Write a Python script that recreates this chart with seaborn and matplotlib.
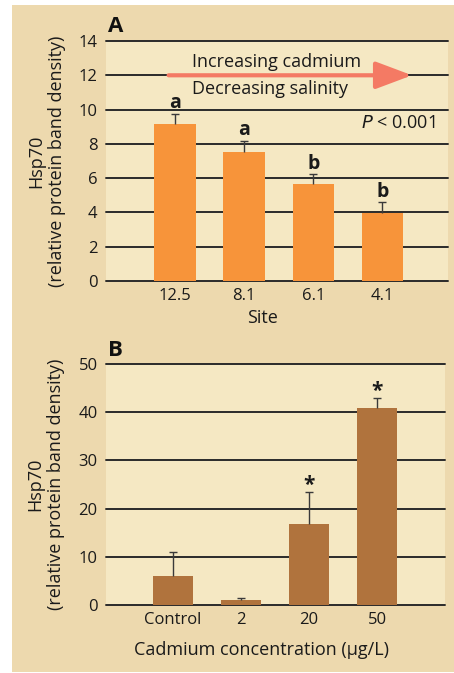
import matplotlib
matplotlib.use("Agg")
import matplotlib.pyplot as plt
import seaborn as sns
import pandas as pd
from matplotlib.patches import Rectangle

# ---- data ----
sites = ["12.5", "8.1", "6.1", "4.1"]
hsp_site = [9.15, 7.52, 5.65, 3.97]
err_site = [0.62, 0.66, 0.59, 0.63]
letters_site = ["a", "a", "b", "b"]

conc = ["Control", "2", "20", "50"]
hsp_conc = [6.0, 1.05, 16.8, 40.8]
err_conc = [5.05, 0.45, 6.7, 2.1]
stars_conc = ["", "", "*", "*"]

ticks_a = [0, 2, 4, 6, 8, 10, 12, 14]
ticks_b = [0, 10, 20, 30, 40, 50]

sns.set_theme(style="white")
plt.rcParams["font.family"] = ["Open Sans", "DejaVu Sans"]

OUTER = "#EDD9AE"
INNER = "#F5E8C3"
ORANGE = "#F7943A"
BROWN = "#B0733D"
GRID = "#2a2a2a"
ERR = "#3a3a3a"
TXT = "#1a1a1a"

W, H = 454, 673
fig = plt.figure(figsize=(W / 100, H / 100), dpi=100)
fig.patch.set_facecolor("white")
fig.patches.append(Rectangle((12 / W, 1 - 672 / H), 1 - 12 / W, (672 - 5) / H,
                             transform=fig.transFigure, facecolor=OUTER,
                             edgecolor="none", zorder=-10))

axA = fig.add_axes([106 / W, 1 - 281 / H, 342 / W, 240 / H])
axB = fig.add_axes([106 / W, 1 - 605 / H, 339 / W, 241 / H])

dfA = pd.DataFrame({"site": sites, "value": hsp_site})
dfB = pd.DataFrame({"conc": conc, "value": hsp_conc})

sns.barplot(data=dfA, x="site", y="value", color=ORANGE, saturation=1,
            errorbar=None, width=0.6, ax=axA, zorder=2, linewidth=0,
            edgecolor="none")
sns.barplot(data=dfB, x="conc", y="value", color=BROWN, saturation=1,
            errorbar=None, width=0.585, ax=axB, zorder=2, linewidth=0,
            edgecolor="none")

for ax, vals, errs, ticks, xl in [
    (axA, hsp_site, err_site, ticks_a, (-1.0, 3.95)),
    (axB, hsp_conc, err_conc, ticks_b, (-0.977, 3.99)),
]:
    ax.set_facecolor(INNER)
    for s in ax.spines.values():
        s.set_visible(False)
    eb = ax.errorbar(range(len(vals)), vals, yerr=[[0] * len(vals), errs],
                     fmt="none", ecolor=ERR, elinewidth=1.0, capsize=3,
                     capthick=1.0, zorder=3)
    # hide lower caps (one-sided error bars)
    if len(eb.lines[1]) == 2:
        eb.lines[1][0].set_visible(False)
    for t in ticks:
        ax.axhline(t, color=GRID, lw=1.4, zorder=1, clip_on=False)
    ax.set_yticks(ticks)
    ax.set_ylim(ticks[0], ticks[-1])
    ax.set_xlim(*xl)
    ax.tick_params(axis="both", length=0, labelsize=12, colors=TXT)
    ax.tick_params(axis="y", pad=6)
    ax.tick_params(axis="x", pad=5)
    ax.set_ylabel("Hsp70\n(relative protein band density)", fontsize=13,
                  color=TXT, linespacing=1.2)
    ax.yaxis.label.set_va("center")

axA.yaxis.set_label_coords(-0.175, 0.5)
axB.yaxis.set_label_coords(-0.177, 0.5)

axA.set_xlabel("Site", fontsize=13, color=TXT)
axA.xaxis.label.set_va("center")
axA.xaxis.set_label_coords(0.459, -0.154)
axB.set_xlabel("Cadmium concentration (\u00b5g/L)", fontsize=13, color=TXT)
axB.xaxis.label.set_va("center")
axB.xaxis.set_label_coords(0.46, -0.187)

# significance letters
for i, (v, e, l) in enumerate(zip(hsp_site, err_site, letters_site)):
    axA.text(i, v + e + 0.6, l, ha="center", va="center", fontsize=14,
             fontweight="bold", color=TXT)
for i, (v, e, s) in enumerate(zip(hsp_conc, err_conc, stars_conc)):
    if s:
        axB.text(i, v + e + 1.4, s, ha="center", va="center", fontsize=15,
                 fontweight="bold", color=TXT)

# arrow and annotations
axA.annotate("", xy=(3.43, 12), xytext=(-0.094, 12),
             arrowprops=dict(arrowstyle="-|>,head_length=1.6,head_width=0.6",
                             lw=3, color="#F47A64", shrinkA=0, shrinkB=0,
                             mutation_scale=14), zorder=4)
axA.text(0.24, 12.78, "Increasing cadmium", ha="left", va="center",
         fontsize=13, color=TXT)
axA.text(0.24, 11.2, "Decreasing salinity", ha="left", va="center",
         fontsize=13, color=TXT)
axA.text(3.76, 9.2, "$\\it{P}$ < 0.001", ha="right", va="center",
         fontsize=13, color=TXT)

fig.text(108 / W, 1 - 27 / H, "A", ha="left", va="center", fontsize=16,
         fontweight="bold", color="#111111")
fig.text(108 / W, 1 - 351 / H, "B", ha="left", va="center", fontsize=16,
         fontweight="bold", color="#111111")

fig.savefig("out.png", dpi=100, facecolor="white")
